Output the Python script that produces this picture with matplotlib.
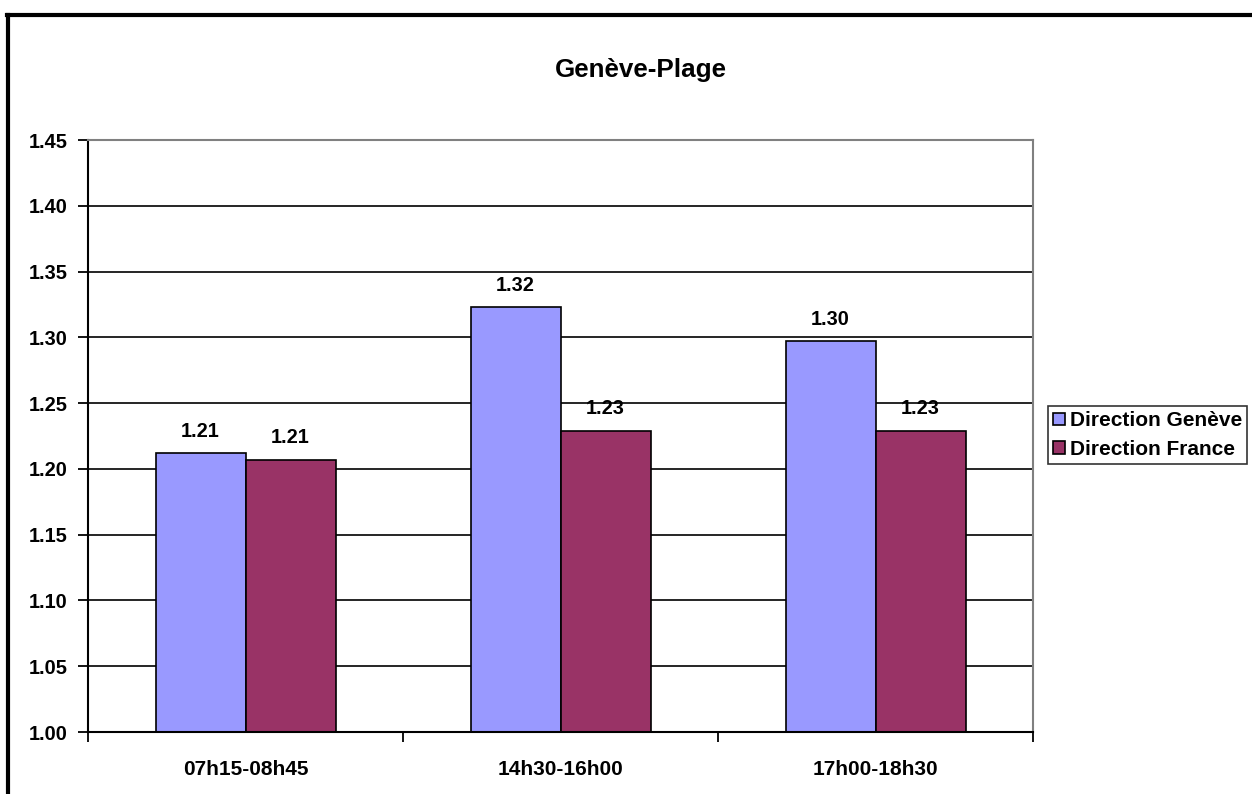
import matplotlib.pyplot as plt
import numpy as np
from matplotlib.lines import Line2D

plt.rcParams["font.family"] = ["Liberation Sans", "DejaVu Sans"]
plt.rcParams["font.weight"] = "bold"

categories = ["07h15-08h45", "14h30-16h00", "17h00-18h30"]
geneve = [1.212, 1.323, 1.297]
france = [1.207, 1.229, 1.229]
series_names = ["Direction Genève", "Direction France"]
colors = ["#9999FF", "#993366"]

fig = plt.figure(figsize=(12.52, 7.94), dpi=100)
ax = fig.add_axes([88 / 1252, 1 - 732 / 794, (1033 - 88) / 1252, (732 - 140) / 794])

x = np.arange(len(categories))
w = 1 / 3.5
b1 = ax.bar(x - w / 2, geneve, w, color=colors[0], edgecolor="black", linewidth=1.2,
            label=series_names[0], zorder=3)
b2 = ax.bar(x + w / 2, france, w, color=colors[1], edgecolor="black", linewidth=1.2,
            label=series_names[1], zorder=3)
for bars in (b1, b2):
    ax.bar_label(bars, fmt="%.2f", padding=9, fontsize=14.4, fontweight="bold")

ax.set_xlim(-0.5, 2.5)
ax.set_ylim(1.0, 1.45)
ax.set_yticks(np.arange(1.0, 1.451, 0.05))
ax.set_yticklabels([f"{v:.2f}" for v in np.arange(1.0, 1.451, 0.05)])
ax.set_xticks(x)
ax.set_xticklabels(categories)
ax.set_xticks([-0.5, 0.5, 1.5, 2.5], minor=True)
ax.tick_params(axis="x", which="major", length=0, pad=20, labelsize=15)
ax.tick_params(axis="x", which="minor", length=7, width=1.3, direction="out")
ax.tick_params(axis="y", length=7, width=1.3, direction="out", labelsize=14.4, pad=8)
ax.yaxis.grid(True, color="black", linewidth=1.2, zorder=0)
ax.set_axisbelow(True)

for s in ("left", "bottom"):
    ax.spines[s].set_linewidth(1.5)
    ax.spines[s].set_color("black")
for s in ("top", "right"):
    ax.spines[s].set_linewidth(1.5)
    ax.spines[s].set_color("#808080")
ax.spines["bottom"].set_zorder(5)

fig.text(641 / 1252, 1 - 70 / 794, "Genève-Plage", ha="center", va="center",
         fontsize=18.7, fontweight="bold")

leg = fig.legend(handles=[b1, b2], loc="center left",
                 bbox_to_anchor=(1048 / 1252, 1 - 435 / 794),
                 fontsize=15, frameon=True, fancybox=False, borderpad=0.25,
                 handlelength=0.55, handleheight=0.55, handletextpad=0.25,
                 labelspacing=0.45, borderaxespad=0)
leg.get_frame().set_edgecolor("black")
leg.get_frame().set_linewidth(1.2)

# outer chart border (top and left visible)
fig.add_artist(Line2D([7 / 1252, 1], [1 - 15 / 794, 1 - 15 / 794], color="black",
                      linewidth=3, transform=fig.transFigure))
fig.add_artist(Line2D([8 / 1252, 8 / 1252], [0, 1 - 15 / 794], color="black",
                      linewidth=3, transform=fig.transFigure))

fig.savefig("out.png", dpi=100)
